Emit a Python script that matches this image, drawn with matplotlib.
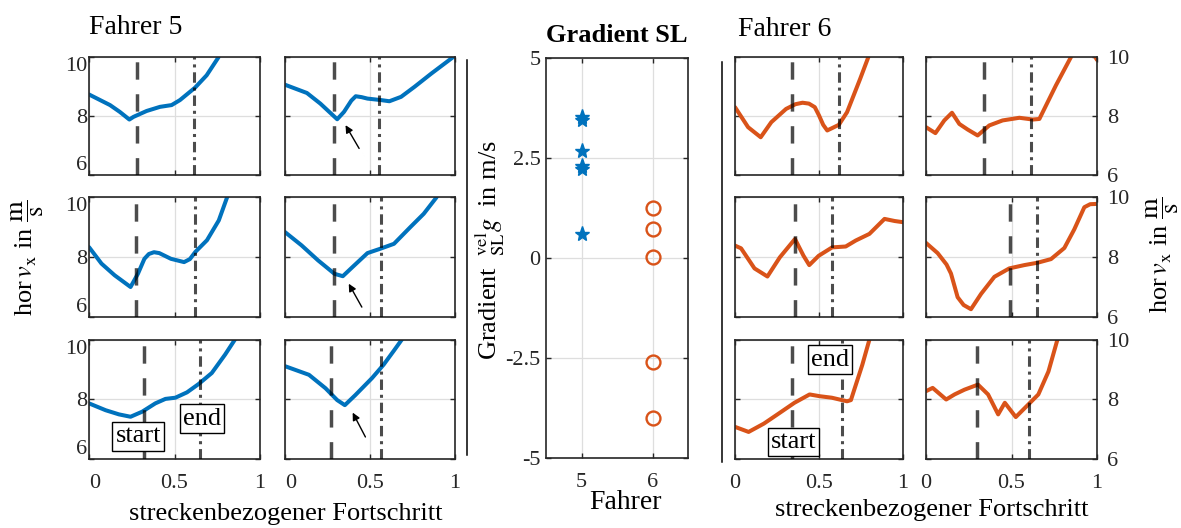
import matplotlib
matplotlib.use("Agg")
import matplotlib.pyplot as plt
from matplotlib.lines import Line2D

plt.rcParams['font.family'] = ['Liberation Serif', 'DejaVu Serif']
plt.rcParams['mathtext.fontset'] = 'stix'
plt.rcParams['lines.scale_dashes'] = False
plt.rcParams['axes.unicode_minus'] = False

BLUE = '#0072BD'
ORANGE = '#D95319'
FRAME = '#262626'

# ---- Fahrer 5: speed profiles (rows top to bottom, left/right column) ----
f5_r1c1_x = [0, 0.123, 0.18, 0.236, 0.26, 0.337, 0.415, 0.483, 0.532, 0.62, 0.688, 0.756, 0.78]
f5_r1c1_y = [8.73, 8.37, 8.14, 7.88, 7.97, 8.17, 8.31, 8.37, 8.54, 8.96, 9.38, 9.98, 10.3]
f5_r1c2_x = [0, 0.129, 0.208, 0.307, 0.347, 0.39, 0.416, 0.45, 0.485, 0.564, 0.614, 0.683, 0.762, 0.861, 0.99, 1.0]
f5_r1c2_y = [9.06, 8.78, 8.42, 7.89, 8.14, 8.52, 8.67, 8.64, 8.59, 8.54, 8.50, 8.65, 8.99, 9.44, 10.0, 10.05]
f5_r2c1_x = [0, 0.073, 0.15, 0.243, 0.286, 0.324, 0.35, 0.38, 0.411, 0.479, 0.556, 0.59, 0.622, 0.69, 0.759, 0.807, 0.82]
f5_r2c1_y = [8.33, 7.78, 7.39, 7.0, 7.44, 7.94, 8.10, 8.16, 8.13, 7.94, 7.83, 7.93, 8.17, 8.56, 9.22, 9.98, 10.2]
f5_r2c2_x = [0, 0.097, 0.194, 0.291, 0.34, 0.398, 0.485, 0.563, 0.641, 0.738, 0.816, 0.89, 0.91]
f5_r2c2_y = [8.83, 8.39, 7.89, 7.44, 7.36, 7.67, 8.13, 8.28, 8.44, 9.0, 9.44, 9.98, 10.2]
f5_r3c1_x = [0, 0.097, 0.175, 0.243, 0.311, 0.388, 0.447, 0.505, 0.573, 0.641, 0.718, 0.796, 0.854, 0.87]
f5_r3c1_y = [7.87, 7.64, 7.50, 7.42, 7.59, 7.87, 8.02, 8.06, 8.24, 8.52, 8.89, 9.51, 10.02, 10.2]
f5_r3c2_x = [0, 0.141, 0.238, 0.307, 0.352, 0.414, 0.512, 0.58, 0.639, 0.688, 0.70]
f5_r3c2_y = [9.12, 8.83, 8.38, 7.98, 7.81, 8.15, 8.72, 9.17, 9.63, 10.02, 10.2]

# ---- Fahrer 6: speed profiles ----
f6_r1c1_x = [0, 0.078, 0.153, 0.216, 0.304, 0.36, 0.402, 0.44, 0.475, 0.5, 0.525, 0.549, 0.618, 0.667, 0.745, 0.794, 0.81]
f6_r1c1_y = [8.30, 7.62, 7.28, 7.79, 8.24, 8.40, 8.45, 8.42, 8.30, 8.02, 7.70, 7.51, 7.70, 8.13, 9.26, 10.0, 10.2]
f6_r1c2_x = [0, 0.055, 0.107, 0.152, 0.195, 0.244, 0.302, 0.37, 0.448, 0.546, 0.624, 0.663, 0.76, 0.848, 0.9, 0.96, 1.0]
f6_r1c2_y = [7.62, 7.42, 7.85, 8.11, 7.73, 7.54, 7.34, 7.68, 7.85, 7.94, 7.88, 7.90, 9.04, 10.0, 10.5, 10.3, 9.9]
f6_r2c1_x = [0, 0.036, 0.116, 0.193, 0.267, 0.357, 0.408, 0.442, 0.498, 0.578, 0.659, 0.719, 0.8, 0.89, 0.95, 1.0]
f6_r2c1_y = [8.38, 8.29, 7.62, 7.35, 7.99, 8.60, 8.04, 7.73, 8.04, 8.32, 8.35, 8.55, 8.77, 9.27, 9.2, 9.16]
f6_r2c2_x = [0, 0.068, 0.12, 0.146, 0.185, 0.22, 0.263, 0.322, 0.4, 0.487, 0.575, 0.653, 0.731, 0.809, 0.867, 0.926, 0.96, 1.0]
f6_r2c2_y = [8.47, 8.13, 7.75, 7.45, 6.66, 6.40, 6.26, 6.77, 7.34, 7.62, 7.73, 7.81, 7.93, 8.30, 8.92, 9.66, 9.76, 9.77]
f6_r3c1_x = [0, 0.081, 0.172, 0.253, 0.354, 0.444, 0.505, 0.576, 0.667, 0.69, 0.707, 0.758, 0.798, 0.81]
f6_r3c1_y = [7.08, 6.91, 7.19, 7.50, 7.89, 8.17, 8.11, 8.06, 7.94, 7.98, 8.28, 9.17, 9.97, 10.2]
f6_r3c2_x = [0, 0.039, 0.118, 0.167, 0.225, 0.304, 0.363, 0.422, 0.461, 0.525, 0.598, 0.657, 0.716, 0.765, 0.78]
f6_r3c2_y = [8.28, 8.39, 8.0, 8.17, 8.33, 8.5, 8.17, 7.5, 7.89, 7.41, 7.83, 8.17, 8.94, 9.94, 10.2]

# start / end of the section (r1c1, r1c2, r2c1, r2c2, r3c1, r3c2)
f5_start = [0.283, 0.287, 0.276, 0.286, 0.324, 0.271]
f5_end = [0.616, 0.555, 0.62, 0.567, 0.65, 0.564]
f6_start = [0.337, 0.337, 0.357, 0.491, 0.337, 0.298]
f6_end = [0.622, 0.614, 0.578, 0.647, 0.636, 0.604]

# gradient of the speed over the section
fahrer_ids = [5, 6]
f5_gradient = [3.53, 3.45, 2.68, 2.30, 2.22, 0.59]
f6_gradient = [1.24, 0.72, 0.03, -2.59, -4.01]

prog_ticks = [0, 0.5, 1]
prog_labels = ['0', '0.5', '1']
speed_ticks = [6, 8, 10]
speed_labels = ['6', '8', '10']
grad_ticks = [-5, -2.5, 0, 2.5, 5]
grad_labels = ['-5', '-2.5', '0', '2.5', '5']

W, H = 1181, 528
fig = plt.figure(figsize=(W / 100, H / 100), dpi=100)


def px_axes(x0, y0, x1, y1):
    return fig.add_axes([x0 / W, 1 - y1 / H, (x1 - x0) / W, (y1 - y0) / H])


def style_frame(ax):
    for s in ax.spines.values():
        s.set_color(FRAME)
        s.set_linewidth(1.2)
    ax.grid(True, color='#dedede', linewidth=0.9)
    ax.set_axisbelow(True)
    ax.tick_params(direction='in', length=3.5, width=1.0, top=True, right=True,
                   labelsize=16, colors=FRAME, labelcolor=FRAME)


def speed_panel(box, xs, ys, color, start, end, show_x, yside):
    ax = px_axes(*box)
    style_frame(ax)
    ax.plot(xs, ys, color=color, lw=2.9, solid_capstyle='round', solid_joinstyle='round', zorder=2)
    ax.axvline(start, color='k', alpha=0.7, lw=2.5, linestyle=(0, (12.5, 10.5)), zorder=3)
    ax.axvline(end, color='k', alpha=0.7, lw=2.2, linestyle=(0, (7.5, 3.5, 2.2, 3.5)), zorder=3)
    ax.set_xlim(0, 1)
    ax.set_ylim(6, 10)
    ax.set_xticks(prog_ticks, labels=prog_labels)
    ax.set_yticks(speed_ticks, labels=speed_labels)
    ax.tick_params(axis='x', labelbottom=show_x, pad=11)
    if yside == 'left':
        ax.tick_params(axis='y', labelleft=True, labelright=False, pad=1.5)
        for lbl, va in zip(ax.get_yticklabels(), ['bottom', 'center_baseline', 'top']):
            lbl.set_verticalalignment(va)
    elif yside == 'right':
        ax.tick_params(axis='y', labelleft=False, labelright=True, pad=7)
    else:
        ax.tick_params(axis='y', labelleft=False, labelright=False)
    return ax


rows = [(57, 175), (197, 317), (340, 459)]
cols5 = [(89, 260), (285, 455)]
cols6 = [(735, 903), (926, 1097)]

f5_data = [(f5_r1c1_x, f5_r1c1_y), (f5_r1c2_x, f5_r1c2_y),
           (f5_r2c1_x, f5_r2c1_y), (f5_r2c2_x, f5_r2c2_y),
           (f5_r3c1_x, f5_r3c1_y), (f5_r3c2_x, f5_r3c2_y)]
f6_data = [(f6_r1c1_x, f6_r1c1_y), (f6_r1c2_x, f6_r1c2_y),
           (f6_r2c1_x, f6_r2c1_y), (f6_r2c2_x, f6_r2c2_y),
           (f6_r3c1_x, f6_r3c1_y), (f6_r3c2_x, f6_r3c2_y)]

axes5, axes6 = [], []
for i in range(6):
    r, c = divmod(i, 2)
    (y0, y1) = rows[r]
    bottom = (r == 2)
    a5 = speed_panel((cols5[c][0], y0, cols5[c][1], y1), *f5_data[i], BLUE,
                     f5_start[i], f5_end[i], bottom, 'left' if c == 0 else None)
    if bottom:
        a5.get_xticklabels()[0].set_horizontalalignment('left')
    axes5.append(a5)
    a6 = speed_panel((cols6[c][0], y0, cols6[c][1], y1), *f6_data[i], ORANGE,
                     f6_start[i], f6_end[i], bottom, 'right' if c == 1 else None)
    axes6.append(a6)

# arrows marking the local minima of Fahrer 5
arrow_kw = dict(arrowstyle='-|>', color='k', lw=1.0, mutation_scale=11, shrinkA=0, shrinkB=0)
for ax, tail, head in [(axes5[1], (0.436, 6.90), (0.356, 7.69)),
                       (axes5[3], (0.452, 6.33), (0.375, 7.11)),
                       (axes5[5], (0.473, 6.74), (0.398, 7.56))]:
    ax.annotate('', xy=head, xytext=tail, arrowprops=arrow_kw, zorder=4)

box_kw = dict(boxstyle='square,pad=0.12', facecolor='white', edgecolor='k', linewidth=1.0)
axes5[4].text(0.288, 6.76, 'start', fontsize=19, ha='center', va='center', bbox=box_kw, zorder=5)
axes5[4].text(0.66, 7.36, 'end', fontsize=19, ha='center', va='center', bbox=box_kw, zorder=5)
axes6[4].text(0.348, 6.57, 'start', fontsize=19, ha='center', va='center', bbox=box_kw, zorder=5)
axes6[4].text(0.566, 9.34, 'end', fontsize=19, ha='center', va='center', bbox=box_kw, zorder=5)

# middle: gradient comparison
axm = px_axes(546, 58, 688, 458)
style_frame(axm)
axm.plot([fahrer_ids[0]] * len(f5_gradient), f5_gradient, linestyle='none', marker='*',
         ms=11, color=BLUE, markeredgecolor=BLUE)
axm.plot([fahrer_ids[1]] * len(f6_gradient), f6_gradient, linestyle='none', marker='o',
         ms=10, markerfacecolor='none', markeredgecolor=ORANGE, markeredgewidth=1.7)
axm.set_xlim(4.5, 6.5)
axm.set_ylim(-5, 5)
axm.set_xticks(fahrer_ids, labels=[str(f) for f in fahrer_ids])
axm.set_yticks(grad_ticks, labels=grad_labels)
axm.tick_params(axis='x', pad=11)
axm.tick_params(axis='y', pad=4)

# titles and axis labels
fig.text(89 / W, 1 - 34.5 / H, 'Fahrer 5', fontsize=20, ha='left', va='baseline')
fig.text(738 / W, 1 - 36 / H, 'Fahrer 6', fontsize=20, ha='left', va='baseline')
fig.text(617 / W, 1 - 42.5 / H, 'Gradient SL', fontsize=19, fontweight='bold',
         ha='center', va='baseline')
fig.text(286 / W, 1 - 520 / H, 'streckenbezogener Fortschritt', fontsize=19,
         ha='center', va='baseline')
fig.text(932 / W, 1 - 516 / H, 'streckenbezogener Fortschritt', fontsize=19,
         ha='center', va='baseline')
fig.text(625 / W, 1 - 509 / H, 'Fahrer', fontsize=20, ha='center', va='baseline')

speed_label = r'hor$\,v_{\mathrm{x}}$ in $\dfrac{\mathrm{m}}{\mathrm{s}}$'
fig.text(27 / W, 1 - 258 / H, speed_label, fontsize=19, rotation=90, ha='center', va='center')
fig.text(1162 / W, 1 - 255 / H, speed_label, fontsize=19, rotation=90, ha='center', va='center')
fig.text(490 / W, 1 - 250 / H, r'Gradient $\;{}^{\mathrm{vel}}_{\mathrm{SL}}g\;$ in m/s',
         fontsize=19, rotation=90, ha='center', va='center')

# separators between the groups
fig.add_artist(Line2D([467 / W, 467 / W], [1 - 60 / H, 1 - 455 / H], color='k', lw=1.1))
fig.add_artist(Line2D([722 / W, 722 / W], [1 - 62 / H, 1 - 462 / H], color='k', lw=1.1))

fig.savefig('out.png', dpi=100)
